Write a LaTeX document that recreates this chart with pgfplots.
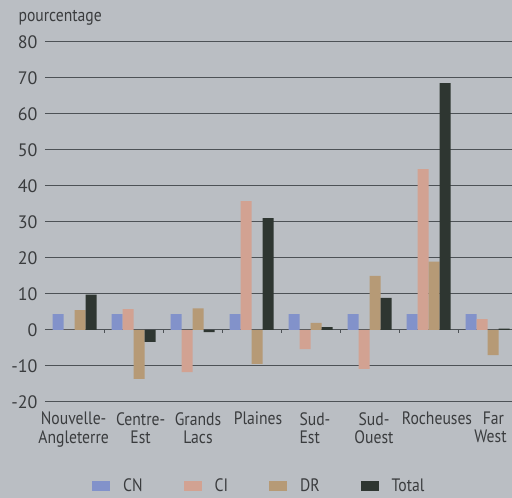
\documentclass[border=0pt]{standalone}
\usepackage{fontspec}
\setmainfont{PT Sans}
\newfontfamily\narrowfont{PT Sans}[FakeStretch=0.87]
\usepackage{pgfplots}
\pgfplotsset{compat=1.18}
\usetikzlibrary{backgrounds}
\definecolor{bg}{HTML}{BABEC3}
\definecolor{gridc}{HTML}{4D5256}
\definecolor{cn}{HTML}{8292CA}
\definecolor{ci}{HTML}{D2A292}
\definecolor{dr}{HTML}{B69A76}
\definecolor{tot}{HTML}{2E3631}
\definecolor{txt}{HTML}{3A3C3E}
\newcommand{\lc}[1]{\begin{tabular}{@{}l@{}}#1\end{tabular}}
\newcommand{\cc}[1]{\begin{tabular}{@{}c@{}}#1\end{tabular}}
\begin{document}
\begin{tikzpicture}[show background rectangle, inner frame sep=0pt,
  background rectangle/.style={fill=bg, draw=none},
  font=\fontsize{18}{18}\selectfont]
\useasboundingbox (-45pt,-96pt) rectangle (467pt,402pt);
\begin{axis}[
  at={(0pt,0pt)}, anchor=south west,
  scale only axis, width=467pt, height=360pt,
  xmin=-0.5, xmax=7.415, ymin=-20, ymax=80,
  clip=false,
  ytick={-20,-10,...,80},
  xtick={-0.015,1.12,2.093,3.11,4.075,5.076,6.144,7.05},
  xticklabels={\cc{Nouvelle-\\Angleterre},\cc{Centre-\\Est},\cc{Grands\\Lacs},\cc{Plaines},\lc{Sud-\\Est},\cc{Sud-\\Ouest},\cc{Rocheuses},\cc{\hspace{6pt}Far\\West}},
  xticklabel style={font=\narrowfont\fontsize{18}{18}\selectfont, anchor=north, yshift=-10pt, text=txt, inner sep=0pt},
  yticklabel style={font=\fontsize{18}{18}\selectfont, xshift=-4pt, text=txt},
  /pgf/number format/assume math mode=true,
  axis line style={draw=none},
  major tick length=0pt,
  ymajorgrids, grid style={gridc, line width=1pt},
  ybar=0pt, bar width=11pt,
  legend columns=4,
  legend style={draw=none, fill=none, at={(0.1006,-0.2333)}, anchor=west, inner sep=0pt,
    font=\narrowfont\fontsize{18}{18}\selectfont, text=txt,
    nodes={inner ysep=0.5pt},
    /tikz/every even column/.append style={column sep=39pt}},
  legend image code/.code={\draw[#1,draw=none] (0pt,-5pt) rectangle (18pt,5pt);},
]
\addplot[fill=cn, draw=none] coordinates {(0,4.4) (1,4.4) (2,4.4) (3,4.4) (4,4.4) (5,4.4) (6,4.4) (7,4.4)};
\addplot[fill=ci, draw=none] coordinates {(0,0) (1,5.8) (2,-11.7) (3,35.8) (4,-5.3) (5,-10.8) (6,44.7) (7,3.0)};
\addplot[fill=dr, draw=none] coordinates {(0,5.5) (1,-13.6) (2,6.0) (3,-9.4) (4,2.0) (5,15.0) (6,19.0) (7,-7.0)};
\addplot[fill=tot, draw=none] coordinates {(0,9.8) (1,-3.3) (2,-0.6) (3,31.1) (4,0.8) (5,8.9) (6,68.6) (7,0.4)};
\legend{\hspace{11pt}CN,\hspace{11pt}CI,\hspace{11pt}DR,\hspace{11pt}Total}
\pgfplotsinvokeforeach{0.5,1.5,2.5,3.5,4.5,5.5,6.5}{
  \draw[gridc, line width=1pt] (axis cs:#1,0) -- ([yshift=-3.5pt]axis cs:#1,0);
}
\node[anchor=base west, text=txt, font=\narrowfont\fontsize{18}{18}\selectfont] at ([xshift=-30pt,yshift=20pt]rel axis cs:0,1) {pourcentage};
\end{axis}
\end{tikzpicture}
\end{document}
